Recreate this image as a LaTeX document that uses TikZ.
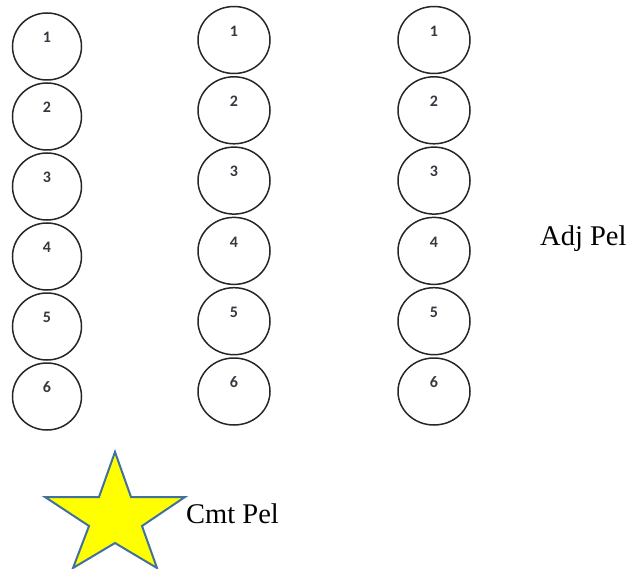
\documentclass[tikz,border=0pt]{standalone}
\usepackage{fontspec}
\setmainfont{Liberation Serif}
\newfontfamily\numfont{Carlito}
\definecolor{starblue}{RGB}{65,113,156}
\definecolor{numgray}{RGB}{55,55,65}
\definecolor{staryellow}{RGB}{255,255,0}
\tikzset{
  cell/.style={ellipse, draw=black!85, line width=1.5pt, minimum width=#1, minimum height=67pt, inner sep=0pt},
  num/.style={font=\numfont\fontsize{16}{18}\selectfont\bfseries, text=numgray, inner sep=0pt},
  lbl/.style={font=\fontsize{28.5}{32}\selectfont, inner sep=0pt, anchor=base west},
  starshape/.style={draw=starblue, fill=staryellow, line width=2pt, line join=miter}
}
\usetikzlibrary{shapes.geometric}
\begin{document}
\begin{tikzpicture}[x=1pt,y=-1pt]
\useasboundingbox (0,0) rectangle (631,569);
% column 1
\foreach \i in {1,...,6}{
  \node[cell=69pt] (a\i) at (47,{46.5+70*(\i-1)}) {};
  \node[num] (an\i) at ([yshift=9pt]a\i.center) {\i};
}
% column 2
\foreach \i in {1,...,6}{
  \node[cell=72pt] (b\i) at (234,{40+70.3*(\i-1)}) {};
  \node[num] (bn\i) at ([yshift=9pt]b\i.center) {\i};
}
% column 3
\foreach \i in {1,...,6}{
  \node[cell=72pt] (c\i) at (434,{40+70.3*(\i-1)}) {};
  \node[num] (cn\i) at ([yshift=9pt]c\i.center) {\i};
}
% star
\draw[starshape] (115,452) -- (131,497) -- (185,497) -- (142,526) -- (157,568)
  -- (115,543) -- (73,568) -- (89,526) -- (45,497) -- (99,497) -- cycle;
\node[lbl] (adj) at (540,245) {Adj Pel};
\node[lbl] (cmt) at (186,523) {Cmt Pel};
\end{tikzpicture}
\end{document}
